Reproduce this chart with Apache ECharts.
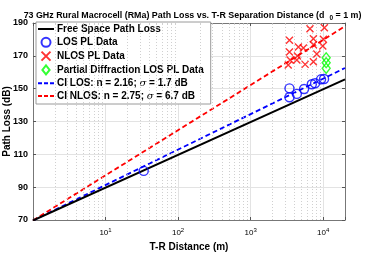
<!DOCTYPE html>
<html>
<head>
<meta charset="utf-8">
<script src="https://cdn.jsdelivr.net/npm/echarts@6/dist/echarts.min.js"></script>
<style>html,body{margin:0;padding:0;background:#fff}#c{width:366px;height:254px}</style>
</head>
<body>
<div id="c"></div>
<script>
// ---- data ----
var fsplLine  = [[1, 69.7], [20000, 155.7]];
var ciLosLine = [[1, 69.7], [20000, 162.6]];
var ciNlosLine = [[1, 69.7], [20000, 188.0]];
var losData = [[33.6, 99.9], [3430, 150.2], [3430, 144.8], [4335, 146.8], [5460, 149.8],
               [6970, 152.7], [7740, 153.3], [9350, 155.7], [10290, 155.9]];
var nlosData = [[6580, 186.5], [10400, 187.1], [3430, 179.5], [7330, 180.4], [10070, 180.1],
                [4560, 175.4], [5340, 174.8], [7330, 176.8], [9880, 176.0], [3430, 172.3],
                [4420, 169.9], [8170, 171.1], [3500, 167.5], [3300, 164.4], [4335, 167.5],
                [5640, 164.8], [7330, 166.4]];
var diffData = [[11000, 168.8], [11000, 165.8], [11000, 162.4]];
var minorX = [2,3,4,5,6,7,8,9,20,30,40,50,60,70,80,90,200,300,400,500,600,700,800,900,
              2000,3000,4000,5000,6000,7000,8000,9000];
var yTicks = [70, 90, 110, 130, 150, 170, 190];
var names = ['Free Space Path Loss', 'LOS PL Data', 'NLOS PL Data', 'Partial Diffraction LOS PL Data',
             'CI LOS: n = 2.16; σ = 1.7 dB', 'CI NLOS: n = 2.75; σ = 6.7 dB'];

var FONT = 'Liberation Sans, Arial, Helvetica, sans-serif';
var chart = echarts.init(document.getElementById('c'), null, {renderer: 'canvas'});

var minorGrid = minorX.map(function (v) { return {xAxis: v}; });
var minorTicks = [];
minorX.forEach(function (v) {
  minorTicks.push([{coord: [v, 70]}, {coord: [v, 71.2]}]);
  minorTicks.push([{coord: [v, 190]}, {coord: [v, 188.8]}]);
});

var lineIcon = 'path://M0,0L16,0L16,2L0,2Z';
var dashIcon = 'path://M0,0L4,0L4,2L0,2ZM6,0L10,0L10,2L6,2ZM12,0L16,0L16,2L12,2Z';
var diamondIcon = 'path://M4,0L8,5L4,10L0,5Z';

var option = {
  animation: false,
  backgroundColor: '#fff',
  textStyle: {fontFamily: FONT},
  title: {
    text: '73 GHz Rural Macrocell (RMa) Path Loss vs. T-R Separation Distance (d  {sub|0} = 1 m)',
    left: 187.5, textAlign: 'center', top: 4,
    textStyle: {
      fontSize: 8.9, fontWeight: 'bold', color: '#000', fontFamily: FONT,
      rich: {sub: {fontSize: 6.5, fontWeight: 'bold', color: '#000', fontFamily: FONT, padding: [6, 0, 0, 0]}}
    }
  },
  grid: {left: 33, right: 21, top: 23, bottom: 34, containLabel: false, outerBoundsMode: 'none'},
  legend: {
    orient: 'vertical', left: 36, top: 22,
    padding: [2, 7, 3, 2], itemGap: 2.8, itemWidth: 16, itemHeight: 9,
    backgroundColor: '#fff', borderColor: '#9a9a9a', borderWidth: 1,
    data: [
      {name: names[0], icon: lineIcon, itemStyle: {color: '#000'}},
      {name: names[1]},
      {name: names[2]},
      {name: names[3], icon: diamondIcon},
      {name: names[4], icon: dashIcon, itemStyle: {color: '#0000ff'}},
      {name: names[5], icon: dashIcon, itemStyle: {color: '#ff0000'}}
    ],
    textStyle: {
      fontSize: 10, fontWeight: 'bold', color: '#000', fontFamily: FONT, padding: [0, 0, 0, -2],
      rich: {it: {fontStyle: 'italic', fontSize: 10, fontWeight: 'normal', color: '#000', fontFamily: 'DejaVu Serif'}}
    },
    formatter: function (n) { return n.replace('σ', '{it|σ}'); }
  },
  xAxis: [{
    type: 'log', logBase: 10, min: 1, max: 20000,
    name: 'T-R Distance (m)', nameLocation: 'middle', nameGap: 22, nameMoveOverlap: false,
    nameTextStyle: {fontSize: 10, fontWeight: 'bold', color: '#000', fontFamily: FONT},
    axisLine: {show: true, lineStyle: {color: '#777', width: 1}},
    axisTick: {show: true, inside: true, length: 3, lineStyle: {color: '#555'}},
    axisLabel: {
      margin: 7, color: '#000', fontSize: 8, fontFamily: FONT,
      formatter: function (v) {
        var e = Math.round(Math.log10(v));
        if (Math.abs(Math.log10(v) - e) > 1e-6 || e === 0) return '';
        return '10{sup|' + e + '}';
      },
      rich: {sup: {fontSize: 6, color: '#000', fontFamily: FONT, padding: [0, 0, 6, 0]}}
    },
    splitLine: {show: true, lineStyle: {color: '#e3e3e3', width: 1}}
  }, {
    type: 'log', logBase: 10, min: 1, max: 20000, position: 'top',
    axisLine: {show: true, lineStyle: {color: '#777', width: 1}},
    axisTick: {show: true, inside: true, length: 3, lineStyle: {color: '#555'}},
    axisLabel: {show: false}, splitLine: {show: false}
  }],
  yAxis: [{
    type: 'value', min: 70, max: 190, interval: 20,
    name: 'Path Loss (dB)', nameLocation: 'middle', nameGap: 21, nameMoveOverlap: false,
    nameTextStyle: {fontSize: 10, fontWeight: 'bold', color: '#000', fontFamily: FONT},
    axisLine: {show: true, lineStyle: {color: '#777', width: 1}},
    axisTick: {show: true, inside: true, length: 3, lineStyle: {color: '#555'}},
    axisLabel: {margin: 5, color: '#000', fontSize: 9, fontWeight: 'bold', fontFamily: FONT,
      formatter: function (v) { return yTicks.indexOf(v) >= 0 ? String(v) : ''; }},
    splitLine: {show: true, lineStyle: {color: '#e3e3e3', width: 1}}
  }, {
    type: 'value', min: 70, max: 190, interval: 20, position: 'right',
    axisLine: {show: true, lineStyle: {color: '#777', width: 1}},
    axisTick: {show: true, inside: true, length: 3, lineStyle: {color: '#555'}},
    axisLabel: {show: false}, splitLine: {show: false}
  }],
  series: [
    {
      name: names[0], type: 'line', data: fsplLine, symbol: 'none', z: 5,
      lineStyle: {color: '#000', width: 2}, itemStyle: {color: '#000'},
      markLine: {
        silent: true, symbol: ['none', 'none'], label: {show: false}, animation: false,
        data: minorGrid.concat(minorTicks),
        lineStyle: {color: '#c4c4c4', width: 0.8, type: [1, 2]}
      }
    },
    {
      name: names[1], type: 'scatter', data: losData, symbol: 'circle', symbolSize: 9, z: 6,
      itemStyle: {color: 'rgba(0,0,0,0)', borderColor: '#0000ff', borderWidth: 1.4}
    },
    {
      name: names[2], type: 'scatter', data: nlosData, symbol: 'path://M0,0L10,10M10,0L0,10',
      symbolSize: 7, z: 6,
      itemStyle: {color: 'rgba(0,0,0,0)', borderColor: '#ff0000', borderWidth: 1.4}
    },
    {
      name: names[3], type: 'scatter', data: diffData, symbol: 'diamond', symbolSize: [8, 10], z: 6,
      itemStyle: {color: 'rgba(0,0,0,0)', borderColor: '#00ff00', borderWidth: 1.4}
    },
    {
      name: names[4], type: 'line', data: ciLosLine, symbol: 'none', z: 4,
      lineStyle: {color: '#0000ff', width: 1.8, type: [5, 3]}, itemStyle: {color: '#0000ff'}
    },
    {
      name: names[5], type: 'line', data: ciNlosLine, symbol: 'none', z: 4,
      lineStyle: {color: '#ff0000', width: 1.8, type: [5, 3]}, itemStyle: {color: '#ff0000'}
    }
  ]
};
chart.setOption(option);
</script>
</body>
</html>
